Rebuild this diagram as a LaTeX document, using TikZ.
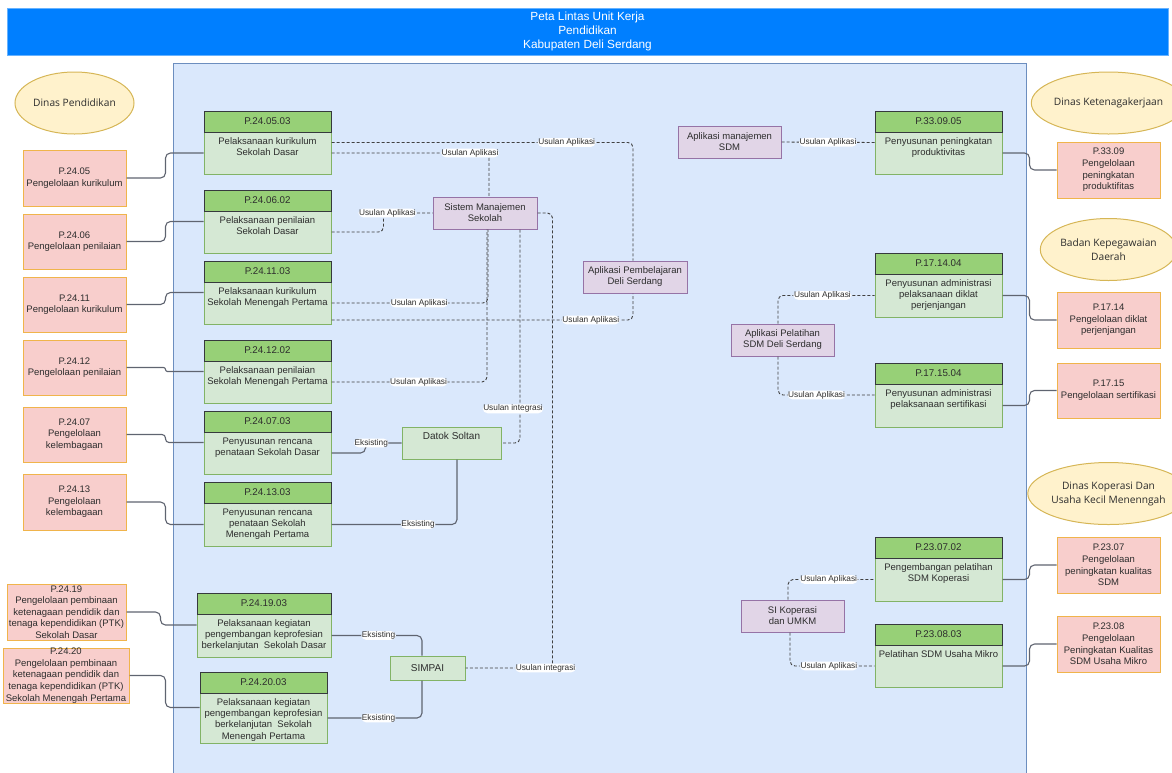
\documentclass[tikz,border=0pt]{standalone}
\usepackage{fontspec}
\setmainfont{Liberation Sans}
\newfontfamily\ovalfont{Open Sans}
\usepackage{tikz}
\usetikzlibrary{positioning,calc,shapes.geometric}
\definecolor{titleblue}{RGB}{0,127,255}
\definecolor{lanefill}{RGB}{218,232,252}
\definecolor{laneedge}{RGB}{108,142,191}
\definecolor{ovalfill}{RGB}{255,242,204}
\definecolor{ovaledge}{RGB}{214,182,86}
\definecolor{pinkfill}{RGB}{248,206,204}
\definecolor{pinkedge}{RGB}{240,180,75}
\definecolor{procfill}{RGB}{213,232,212}
\definecolor{procedge}{RGB}{130,179,102}
\definecolor{hdfill}{RGB}{151,208,119}
\definecolor{hdedge}{RGB}{54,57,61}
\definecolor{aplfill}{RGB}{225,213,231}
\definecolor{apledge}{RGB}{150,115,166}
\definecolor{linkgray}{RGB}{95,100,112}
\definecolor{txt}{RGB}{45,45,45}
\tikzset{
  title/.style={draw=titleblue!60!white, fill=titleblue, line width=1pt, text=white,
                minimum width=1161pt, minimum height=47pt, align=center,
                font=\fontsize{11.8}{14}\selectfont},
  lane/.style={draw=laneedge, fill=lanefill, line width=1pt},
  dinas/.style={ellipse, draw=ovaledge, fill=ovalfill, line width=1pt, minimum width=119pt,
                minimum height=62pt, inner sep=0pt, align=center, text=txt,
                font=\ovalfont\fontsize{10.2}{14}\selectfont},
  tugas/.style={draw=pinkedge, fill=pinkfill, line width=1pt, minimum width=103pt,
                inner sep=0pt, align=center, text=txt, font=\fontsize{9.5}{11.6}\selectfont},
  proc/.style={draw=procedge, fill=procfill, line width=1pt, minimum width=127pt, inner sep=0pt},
  prochd/.style={draw=hdedge, fill=hdfill, line width=1pt, minimum width=127pt,
                 minimum height=21pt, inner sep=0pt, anchor=north, text=txt,
                 font=\fontsize{9.8}{11}\selectfont},
  proctxt/.style={anchor=north, yshift=-27pt, inner sep=0pt, align=center, text=txt,
                  font=\fontsize{9.5}{11.2}\selectfont},
  apl/.style={draw=apledge, fill=aplfill, line width=1pt, minimum width=104pt,
              minimum height=32pt, inner sep=0pt, align=center, text=txt,
              font=\fontsize{9.5}{11}\selectfont},
  sys/.style={draw=procedge, fill=procfill, line width=1pt, inner sep=0pt, align=center,
              text=txt, font=\fontsize{10}{11}\selectfont},
  systxt/.style={anchor=north, yshift=-6pt, inner sep=0pt, text=txt,
                 font=\fontsize{10}{11}\selectfont},
  link/.style={linkgray, line width=1.1pt, rounded corners=5pt},
  usul/.style={black!75, line width=0.9pt, dash pattern=on 3pt off 2pt, rounded corners=5pt},
  lbl/.style={fill=white, inner sep=0.6pt, text=txt, font=\fontsize{8.3}{9}\selectfont}
}
\begin{document}
\begin{tikzpicture}[x=1pt, y=-1pt]
\useasboundingbox (0,0) rectangle (1172,772);
\node[title] (ttl) at (587.5,31.5) {Peta Lintas Unit Kerja\\Pendidikan\\Kabupaten Deli Serdang};
\draw[lane] (173,63) rectangle (1026,774);

\node[dinas] (dpend) at (74.5,103) {Dinas Pendidikan};
\node[dinas] (dnaker) at (1108.5,103) {Dinas Ketenagakerjaan};
\node[dinas] (bkd) at (1108.5,249.5) {Badan Kepegawaian\\Daerah};
\node[dinas] (dkop) at (1108.5,493.5) {Dinas Koperasi Dan\\Usaha Kecil Menenngah};

\node[tugas, minimum height=56pt] (p2405) at (74.5,178) {P.24.05\\Pengelolaan kurikulum};
\node[tugas, minimum height=55pt] (p2406) at (74.5,241.5) {P.24.06\\Pengelolaan penilaian};
\node[tugas, minimum height=55pt] (p2411) at (74.5,304.5) {P.24.11\\Pengelolaan kurikulum};
\node[tugas, minimum height=55pt] (p2412) at (74.5,367.5) {P.24.12\\Pengelolaan penilaian};
\node[tugas, minimum height=55pt] (p2407) at (74.5,434.5) {P.24.07\\Pengelolaan\\kelembagaan};
\node[tugas, minimum height=56pt] (p2413) at (74.5,502) {P.24.13\\Pengelolaan\\kelembagaan};
\node[tugas, minimum width=119pt, minimum height=56pt] (p2419) at (66.5,612) {P.24.19\\Pengelolaan pembinaan\\ketenagaan pendidik dan\\tenaga kependidikan (PTK)\\Sekolah Dasar};
\node[tugas, minimum width=126pt, minimum height=55pt] (p2420) at (66,675.5) {P.24.20\\Pengelolaan pembinaan\\ketenagaan pendidik dan\\tenaga kependidikan (PTK)\\Sekolah Menengah Pertama};
\node[tugas, minimum height=56pt] (p3309) at (1108.5,170) {P.33.09\\Pengelolaan\\peningkatan\\produktifitas};
\node[tugas, minimum height=56pt] (p1714) at (1108.5,320) {P.17.14\\Pengelolaan diklat\\perjenjangan};
\node[tugas, minimum height=55pt] (p1715) at (1108.5,390.5) {P.17.15\\Pengelolaan sertifikasi};
\node[tugas, minimum height=56pt] (p2307) at (1108.5,565) {P.23.07\\Pengelolaan\\peningkatan kualitas\\SDM};
\node[tugas, minimum height=56pt] (p2308) at (1108.5,644) {P.23.08\\Pengelolaan\\Peningkatan Kualitas\\SDM Usaha Mikro};

\node[proc, minimum height=63pt, label={[prochd]north:P.24.05.03}, label={[proctxt]north:Pelaksanaan kurikulum\\Sekolah Dasar}] (g240503) at (267.5,142.5) {};
\node[proc, minimum height=63pt, label={[prochd]north:P.24.06.02}, label={[proctxt]north:Pelaksanaan penilaian\\Sekolah Dasar}] (g240602) at (267.5,221.5) {};
\node[proc, minimum height=63pt, label={[prochd]north:P.24.11.03}, label={[proctxt]north:Pelaksanaan kurikulum\\Sekolah Menengah Pertama}] (g241103) at (267.5,292.5) {};
\node[proc, minimum height=63pt, label={[prochd]north:P.24.12.02}, label={[proctxt]north:Pelaksanaan penilaian\\Sekolah Menengah Pertama}] (g241202) at (267.5,371.5) {};
\node[proc, minimum height=63pt, label={[prochd]north:P.24.07.03}, label={[proctxt]north:Penyusunan rencana\\penataan Sekolah Dasar}] (g240703) at (267.5,442.5) {};
\node[proc, minimum height=64pt, label={[prochd]north:P.24.13.03}, label={[proctxt]north:Penyusunan rencana\\penataan Sekolah\\Menengah Pertama}] (g241303) at (267.5,514) {};
\node[proc, minimum width=134pt, minimum height=64pt, label={[prochd, minimum width=134pt]north:P.24.19.03}, label={[proctxt]north:Pelaksanaan kegiatan\\pengembangan keprofesian\\berkelanjutan\ \ Sekolah Dasar}] (g241903) at (264,625) {};
\node[proc, minimum height=71pt, label={[prochd]north:P.24.20.03}, label={[proctxt]north:Pelaksanaan kegiatan\\pengembangan keprofesian\\berkelanjutan\ \ Sekolah\\Menengah Pertama}] (g242003) at (263.5,707.5) {};
\node[proc, minimum height=63pt, label={[prochd]north:P.33.09.05}, label={[proctxt]north:Penyusunan peningkatan\\produktivitas}] (g330905) at (938.5,142.5) {};
\node[proc, minimum height=64pt, label={[prochd]north:P.17.14.04}, label={[proctxt]north:Penyusunan administrasi\\pelaksanaan diklat\\perjenjangan}] (g171404) at (938.5,285) {};
\node[proc, minimum height=64pt, label={[prochd]north:P.17.15.04}, label={[proctxt]north:Penyusunan administrasi\\pelaksanaan sertifikasi}] (g171504) at (938.5,395) {};
\node[proc, minimum height=64pt, label={[prochd]north:P.23.07.02}, label={[proctxt]north:Pengembangan pelatihan\\SDM Koperasi}] (g230702) at (938.5,569) {};
\node[proc, minimum height=63pt, label={[prochd]north:P.23.08.03}, label={[proctxt]north:Pelatihan SDM Usaha Mikro}] (g230803) at (938.5,655.5) {};

\node[apl] (sms) at (485,213) {Sistem Manajemen\\Sekolah};
\node[apl] (apb) at (635,277) {Aplikasi Pembelajaran\\Deli Serdang};
\node[apl, minimum width=103pt] (ams) at (729.5,142) {Aplikasi manajemen\\SDM};
\node[apl, minimum width=103pt] (aps) at (782.5,340) {Aplikasi Pelatihan\\SDM Deli Serdang};
\node[apl, minimum width=103pt] (sik) at (792.5,616) {SI Koperasi\\dan UMKM};
\node[sys, minimum width=99pt, minimum height=32pt, label={[systxt]north:Datok Soltan}] (ds) at (451.5,443) {};
\node[sys, minimum width=75pt, minimum height=24pt] (simpai) at (427.5,668) {SIMPAI};

\draw[link] (p2405.east) -- ++(39,0) |- ([yshift=-10.5pt]g240503.west);
\draw[link] (p2406.east) -- ++(39,0) |- (g240602.west);
\draw[link] (p2411.east) -- ++(39,0) |- (g241103.west);
\draw[link, rounded corners=2pt] (p2412.east) -- ++(39,0) |- (g241202.west);
\draw[link, rounded corners=3.5pt] (p2407.east) -- ++(39,0) |- (g240703.west);
\draw[link] (p2413.east) -- ++(39,0) |- ([yshift=-10.5pt]g241303.west);
\draw[link] (p2419.east) -- ++(34,0) |- (g241903.west);
\draw[link] (p2420.east) -- ++(36,0) |- (g242003.west);
\draw[link] ([yshift=-10.5pt]g330905.east) -- ++(27,0) |- (p3309.west);
\draw[link] ([yshift=-10.5pt]g171404.east) -- ++(27,0) |- (p1714.west);
\draw[link] ([yshift=-10.5pt]g171504.east) -- ++(27,0) |- (p1715.west);
\draw[link] ([yshift=-10.5pt]g230702.east) -- ++(27,0) |- (p2307.west);
\draw[link] ([yshift=-10.5pt]g230803.east) -- ++(27,0) |- (p2308.west);

\draw[usul] (g240503.east) -| node[lbl, pos=0.39] {Usulan Aplikasi} ([xshift=-2pt]apb.north);
\draw[usul] ([yshift=-10.5pt]g240503.east) -| node[lbl, pos=0.44] {Usulan Aplikasi} ([xshift=4pt]sms.north);
\draw[usul] ([yshift=-10.5pt]g240602.east) -- ++(52,0) |- node[lbl, pos=0.54] {Usulan Aplikasi} (sms.west);
\draw[usul] ([yshift=-10.5pt]g241103.east) -| node[lbl, pos=0.28] {Usulan Aplikasi} ([xshift=3pt]sms.south);
\draw[usul] ([yshift=-27.5pt]g241103.east) -| node[lbl, pos=0.43] {Usulan Aplikasi} ([xshift=-2pt]apb.south);
\draw[usul] ([yshift=-10.5pt]g241202.east) -| node[lbl, pos=0.28] {Usulan Aplikasi} ([xshift=2pt]sms.south);
\draw[usul] ([xshift=35pt]sms.south) |- node[lbl, pos=0.42, xshift=-7pt] {Usulan integrasi} (ds.east);
\draw[usul] (sms.east) -- ++(15,0) |- node[lbl, pos=0.54] {Usulan integrasi} (simpai.east);

\draw[link] ([yshift=-10.5pt]g240703.east) -- ++(34,0) |- node[lbl, pos=0.58] {Eksisting} (ds.west);
\draw[link] ([yshift=-10.5pt]g241303.east) -| node[lbl, pos=0.345] {Eksisting} ([xshift=5.5pt]ds.south);
\draw[link] ([yshift=-10.5pt]g241903.east) -| node[lbl, pos=0.26] {Eksisting} ([xshift=-5.5pt]simpai.north);
\draw[link] ([yshift=-10.5pt]g242003.east) -| node[lbl, pos=0.27] {Eksisting} ([xshift=-5.5pt]simpai.south);

\draw[usul] (ams.east) -- node[lbl] {Usulan Aplikasi} (g330905.west);
\draw[usul] ([xshift=-4.5pt]aps.north) |- node[lbl, pos=0.73] {Usulan Aplikasi} ([yshift=-10.5pt]g171404.west);
\draw[usul] ([xshift=-4.5pt]aps.south) |- node[lbl, pos=0.70] {Usulan Aplikasi} (g171504.west);
\draw[usul] ([xshift=-4.5pt]sik.north) |- node[lbl, pos=0.735] {Usulan Aplikasi} ([yshift=-10.5pt]g230702.west);
\draw[usul] ([xshift=-2.5pt]sik.south) |- node[lbl, pos=0.73] {Usulan Aplikasi} ([yshift=-10.5pt]g230803.west);
\end{tikzpicture}
\end{document}
